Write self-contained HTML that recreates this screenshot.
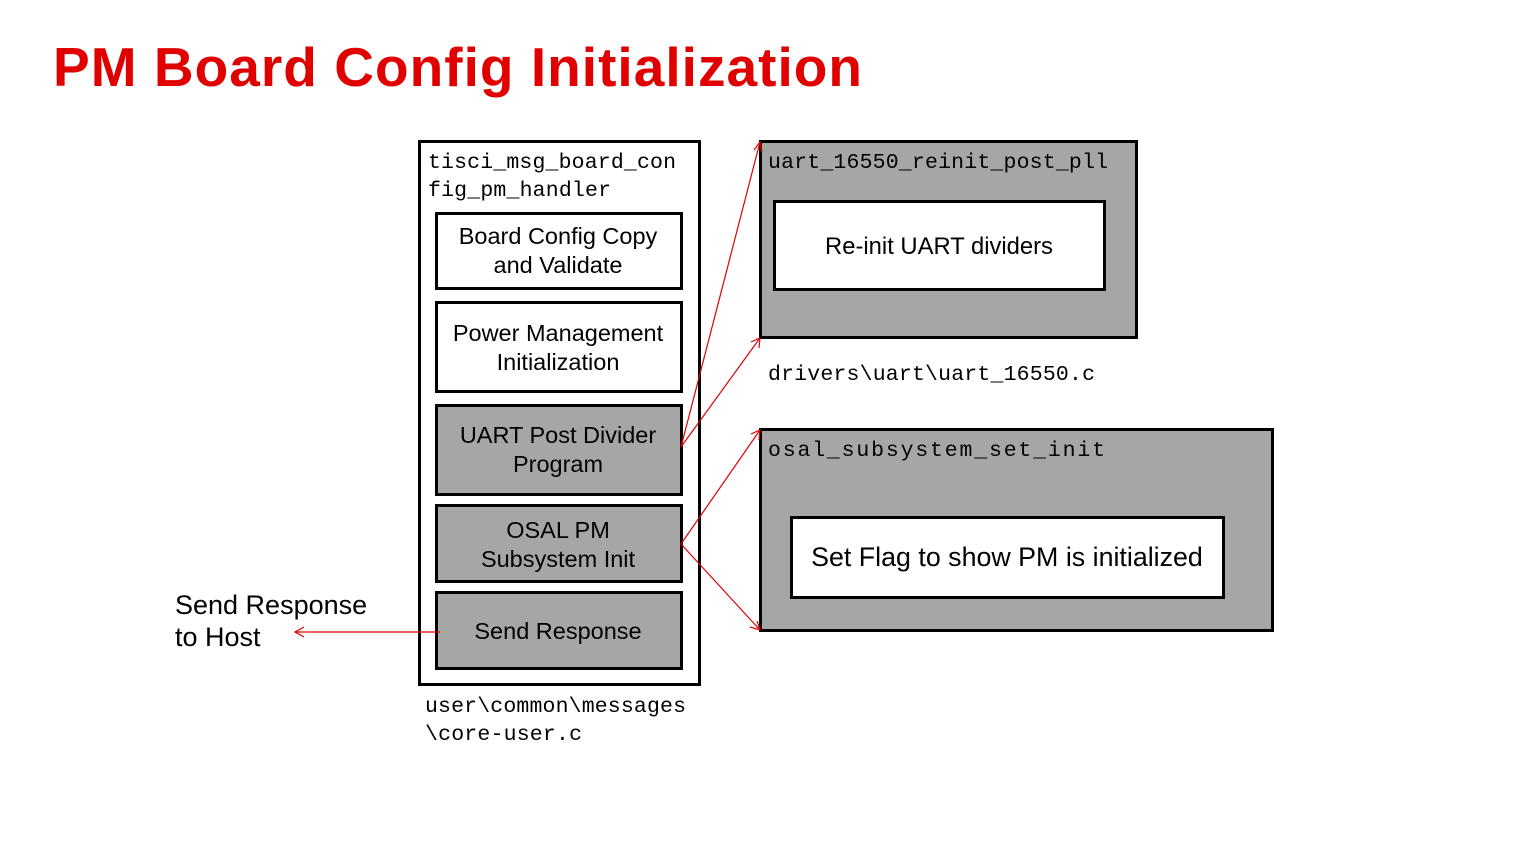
<!DOCTYPE html>
<html><head><meta charset="utf-8"><style>
html,body{margin:0;padding:0;background:#fff;width:1536px;height:864px;overflow:hidden}
</style></head><body>
<svg width="1536" height="864" xmlns="http://www.w3.org/2000/svg">
<text x="53" y="86" font-family="Liberation Sans, sans-serif" font-weight="bold" font-size="55" fill="#e00000" textLength="809">PM Board Config Initialization</text>
<g stroke="#000" stroke-width="3">
<rect x="419.5" y="141.5" width="280" height="543" fill="#fff"/>
<rect x="436.5" y="213.5" width="245" height="75" fill="#fff"/>
<rect x="436.5" y="302.5" width="245" height="89" fill="#fff"/>
<rect x="436.5" y="405.5" width="245" height="89" fill="#a6a6a6"/>
<rect x="436.5" y="505.5" width="245" height="76" fill="#a6a6a6"/>
<rect x="436.5" y="592.5" width="245" height="76" fill="#a6a6a6"/>
<rect x="760.5" y="141.5" width="376" height="196" fill="#a6a6a6"/>
<rect x="774.5" y="201.5" width="330" height="88" fill="#fff"/>
<rect x="760.5" y="429.5" width="512" height="201" fill="#a6a6a6"/>
<rect x="791.5" y="517.5" width="432" height="80" fill="#fff"/>
</g>
<g font-family="Liberation Mono, monospace" font-size="21.5" fill="#000">
<text x="428" y="168" textLength="248">tisci_msg_board_con</text>
<text x="428" y="196" textLength="183">fig_pm_handler</text>
<text x="768" y="168" textLength="340">uart_16550_reinit_post_pll</text>
<text x="768" y="380" textLength="327">drivers\uart\uart_16550.c</text>
<text x="768" y="456" textLength="337">osal_subsystem_set_init</text>
<text x="425" y="712" textLength="261">user\common\messages</text>
<text x="425" y="740" textLength="157">\core-user.c</text>
</g>
<g font-family="Liberation Sans, sans-serif" font-size="23.5" fill="#000" text-anchor="middle">
<text x="558" y="244">Board Config Copy</text>
<text x="558" y="273">and Validate</text>
<text x="558" y="341">Power Management</text>
<text x="558" y="370">Initialization</text>
<text x="558" y="443">UART Post Divider</text>
<text x="558" y="472">Program</text>
<text x="558" y="538">OSAL PM</text>
<text x="558" y="567">Subsystem Init</text>
<text x="558" y="639">Send Response</text>
<text x="939" y="254" font-size="23.8">Re-init UART dividers</text>
<text x="1007" y="566" font-size="26.8">Set Flag to show PM is initialized</text>
</g>
<g font-family="Liberation Sans, sans-serif" font-size="27" fill="#000">
<text x="175" y="614">Send Response</text>
<text x="175" y="646">to Host</text>
</g>
<g stroke="#e00000" stroke-width="1.2" fill="none">
<path d="M681 447 L760 142 M681 447 L760 338 M681 544 L760 430 M681 544 L760 630 M440 632 L295 632"/>
<path d="M754 150 L760 142 L762 152"/>
<path d="M751 342 L760 338 L759 348"/>
<path d="M751 434 L760 430 L759 440"/>
<path d="M750 627 L760 630 L757 621"/>
<path d="M304 627 L295 632 L304 637"/>
</g>
</svg>
</body></html>
